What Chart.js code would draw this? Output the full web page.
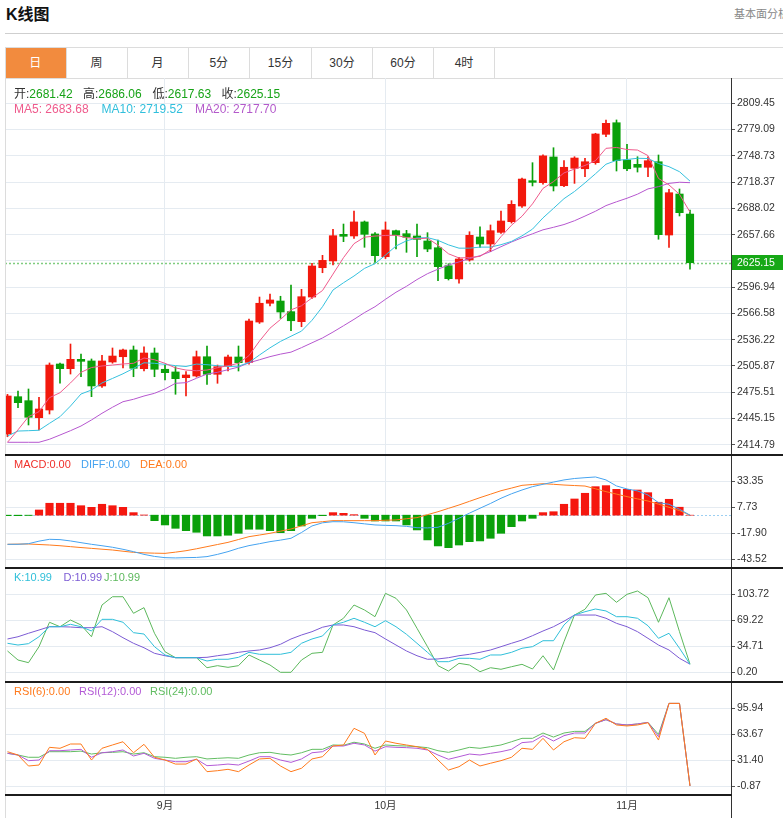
<!DOCTYPE html>
<html>
<head>
<meta charset="utf-8">
<script src="https://cdn.jsdelivr.net/npm/chart.js@4"></script>
<style>
  html, body { margin:0; padding:0; }
  body { width:783px; height:818px; overflow:hidden; background:#fff; position:relative;
         font-family:"Liberation Sans","Noto Sans CJK SC",Arial,sans-serif; color:#333; }
  .abs { position:absolute; white-space:nowrap; }
  canvas { position:absolute; left:0; }
  .tab { position:absolute; top:48px; height:30px; line-height:30px; text-align:center; font-size:12px; color:#333;
         border-right:1px solid #dcdcdc; box-sizing:border-box; }
  .tab.on { background:#f28b3e; color:#fff; }
  .hdr { position:absolute; white-space:nowrap; }
</style>
</head>
<body>
<script>
// ---------------- DATA ----------------
const monthLabels  = ['9月', '10月', '11月'];
const monthTickIdx = [15, 36, 59];

const openValues = [
  2427.2, 2470.3, 2465.7, 2446.0, 2454.9, 2508.1, 2502.7, 2513.5, 2511.6, 2482.7,
  2510.4, 2516.5, 2524.3, 2502.7, 2520.8, 2502.0, 2498.9, 2492.3, 2494.2, 2516.5,
  2496.2, 2506.1, 2516.2, 2510.0, 2556.6, 2578.3, 2580.9, 2568.6, 2557.0, 2585.5,
  2619.4, 2627.2, 2658.0, 2656.1, 2672.3, 2658.4, 2632.1, 2662.2, 2658.7, 2656.1,
  2650.3, 2642.5, 2621.7, 2606.4, 2628.3, 2654.9, 2646.8, 2660.3, 2672.6, 2690.7,
  2720.0, 2717.7, 2747.4, 2714.2, 2734.3, 2733.8, 2740.8, 2773.6, 2787.0, 2743.9,
  2738.9, 2735.5, 2741.9, 2657.2, 2704.6, 2681.42
];
const highValues = [
  2473.0, 2476.9, 2479.2, 2469.6, 2509.3, 2509.3, 2531.2, 2519.6, 2513.9, 2518.1,
  2526.6, 2525.4, 2528.9, 2527.8, 2526.6, 2506.9, 2505.0, 2499.4, 2523.1, 2528.9,
  2506.9, 2518.5, 2528.9, 2560.1, 2585.5, 2589.0, 2586.4, 2599.4, 2594.4, 2624.5,
  2633.7, 2663.8, 2669.9, 2685.0, 2673.4, 2659.9, 2672.3, 2663.0, 2662.6, 2669.9,
  2659.9, 2651.4, 2624.0, 2631.4, 2661.0, 2666.8, 2668.8, 2685.0, 2696.9, 2723.0,
  2740.8, 2750.0, 2758.1, 2743.1, 2747.7, 2745.9, 2774.8, 2790.2, 2790.2, 2762.1,
  2747.7, 2747.7, 2749.7, 2710.0, 2710.4, 2686.06
];
const lowValues = [
  2424.0, 2457.6, 2437.6, 2431.8, 2450.3, 2485.8, 2496.5, 2493.4, 2470.3, 2481.0,
  2509.0, 2503.5, 2493.4, 2500.0, 2493.4, 2489.6, 2473.1, 2471.1, 2493.0, 2484.6,
  2485.8, 2500.0, 2500.0, 2508.0, 2555.0, 2575.2, 2560.9, 2546.6, 2551.2, 2584.0,
  2613.6, 2622.5, 2649.5, 2653.4, 2643.0, 2625.6, 2630.0, 2641.0, 2637.2, 2632.1,
  2637.9, 2604.4, 2605.2, 2601.4, 2627.0, 2643.0, 2637.9, 2659.0, 2671.0, 2689.0,
  2713.9, 2716.0, 2708.1, 2713.0, 2716.9, 2724.6, 2739.0, 2770.8, 2731.2, 2731.5,
  2730.0, 2724.6, 2652.3, 2643.0, 2679.2, 2617.63
];
const closeValues = [
  2471.1, 2463.4, 2446.5, 2456.1, 2506.9, 2502.7, 2513.5, 2511.2, 2482.7, 2511.6,
  2517.3, 2524.3, 2503.1, 2520.8, 2502.0, 2498.1, 2491.1, 2495.4, 2516.5, 2496.2,
  2505.0, 2516.2, 2509.6, 2557.8, 2578.3, 2582.1, 2568.2, 2558.1, 2585.9, 2621.4,
  2627.9, 2656.4, 2655.7, 2672.3, 2658.0, 2633.3, 2663.0, 2657.2, 2654.6, 2652.2,
  2641.0, 2620.6, 2606.7, 2629.5, 2656.8, 2646.8, 2662.2, 2673.4, 2692.7, 2721.9,
  2718.1, 2748.7, 2713.9, 2735.5, 2746.2, 2741.9, 2774.0, 2786.3, 2743.1, 2733.8,
  2735.5, 2743.1, 2657.6, 2706.1, 2683.0, 2625.15
];
const ma5Values = [
  2417.6, 2432.0, 2447.2, 2453.0, 2469.2, 2474.9, 2486.2, 2498.5, 2504.0, 2505.8,
  2506.9, 2508.1, 2508.9, 2515.0, 2513.0, 2508.9, 2503.6, 2501.1, 2500.3, 2501.1,
  2503.8, 2506.1, 2508.9, 2517.8, 2534.6, 2549.5, 2559.6, 2570.7, 2575.4, 2584.5,
  2593.0, 2612.0, 2631.0, 2647.2, 2654.7, 2656.0, 2656.7, 2656.9, 2654.2, 2652.8,
  2653.5, 2645.4, 2635.5, 2630.7, 2631.1, 2632.5, 2640.2, 2655.3, 2668.5, 2678.9,
  2693.2, 2711.1, 2718.9, 2729.0, 2733.4, 2737.6, 2743.1, 2757.4, 2758.4, 2756.0,
  2755.4, 2749.0, 2722.6, 2715.1, 2704.2, 2683.68
];
const ma10Values = [
  2424.9, 2430.6, 2431.0, 2431.5, 2439.5, 2447.2, 2459.5, 2473.4, 2478.0, 2486.2,
  2491.4, 2496.8, 2503.0, 2509.5, 2508.9, 2507.7, 2506.2, 2505.2, 2508.0, 2507.3,
  2506.1, 2505.2, 2505.6, 2509.8, 2518.5, 2526.8, 2534.2, 2540.2, 2546.1, 2558.6,
  2574.3, 2593.6, 2602.0, 2609.8, 2618.6, 2624.1, 2634.0, 2644.5, 2650.5, 2653.8,
  2654.2, 2651.0, 2645.8, 2642.0, 2642.0, 2643.2, 2643.2, 2646.0, 2649.8, 2656.2,
  2664.0, 2677.0, 2688.0, 2699.2, 2707.5, 2717.5, 2728.0, 2739.0, 2743.5, 2744.5,
  2745.9, 2745.6, 2739.9, 2736.2, 2730.4, 2719.52
];
const ma20Values = [
  2417.6, 2417.6, 2417.6, 2417.6, 2421.1, 2426.0, 2431.0, 2436.4, 2443.4, 2451.1,
  2458.1, 2464.5, 2467.3, 2471.1, 2474.2, 2479.2, 2485.8, 2486.5, 2491.6, 2496.5,
  2498.5, 2501.5, 2504.5, 2509.5, 2513.0, 2516.6, 2519.5, 2521.8, 2527.0, 2532.6,
  2538.2, 2545.0, 2552.3, 2559.7, 2567.5, 2574.3, 2582.9, 2591.0, 2597.9, 2605.7,
  2612.5, 2617.7, 2622.5, 2626.1, 2630.0, 2633.3, 2638.0, 2643.7, 2649.1, 2654.1,
  2658.6, 2663.2, 2666.1, 2669.3, 2673.7, 2679.1, 2684.7, 2691.2, 2695.6, 2699.7,
  2704.4, 2710.5, 2713.1, 2716.9, 2718.2, 2717.70
];
const macdValues = [
  -0.5, -0.5, -0.3, 5.1, 11.7, 11.7, 11.7, 9.3, 7.7, 10.7,
  9.3, 7.7, 2.5, 0.2, -5.4, -9.6, -12.9, -15.2, -16.8, -20.4,
  -20.4, -19.7, -17.8, -13.8, -13.8, -15.2, -17.2, -15.2, -10.6, -3.1,
  -0.5, 2.5, 1.8, 0.5, -3.1, -5.7, -5.7, -5.7, -9.6, -14.5,
  -24.3, -30.2, -31.9, -29.3, -26.0, -25.3, -22.7, -17.8, -11.3, -5.7,
  -3.1, 2.5, 3.4, 10.7, 15.9, 21.5, 28.0, 29.0, 25.4, 25.4,
  24.7, 22.1, 12.7, 15.6, 7.8, 0
];
const diffValues = [
  -28.6, -28.6, -28.0, -25.5, -23.7, -24.0, -25.3, -27.0, -28.6, -30.0,
  -31.5, -33.5, -35.8, -38.5, -40.5, -41.7, -42.0, -41.7, -41.5, -40.7,
  -38.5, -35.8, -32.5, -29.9, -28.0, -26.0, -24.5, -22.7, -17.0, -10.6,
  -7.5, -6.4, -6.5, -7.4, -8.5, -9.6, -10.0, -10.3, -11.0, -12.3,
  -12.5, -11.9, -8.0, -3.0, 2.0, 6.8, 11.5, 16.6, 21.0, 24.7,
  28.0, 30.3, 32.5, 34.6, 36.0, 36.8, 37.5, 34.6, 28.7, 25.7,
  23.8, 19.8, 12.3, 10.7, 5.8, 0
];
const deaValues = [
  -28.6, -28.4, -28.3, -28.8, -29.3, -30.0, -30.9, -31.8, -32.6, -33.4,
  -34.2, -35.4, -36.5, -37.0, -37.3, -37.5, -36.3, -34.9, -33.0, -30.9,
  -28.8, -26.7, -23.9, -21.1, -19.5, -17.8, -15.7, -13.6, -10.5, -7.4,
  -6.4, -5.4, -5.4, -5.4, -5.4, -5.4, -5.0, -4.7, -3.5, -2.4,
  0.5, 3.4, 6.7, 10.0, 13.6, 17.2, 20.6, 24.0, 26.6, 29.3,
  30.1, 30.9, 30.3, 29.6, 29.1, 28.6, 25.9, 23.1, 20.7, 18.2,
  16.0, 13.9, 10.8, 7.7, 4.5, 0
];
const kValues = [
  38.7, 36.4, 38.2, 47.4, 60.7, 60.7, 63.9, 60.7, 55.0, 70.5,
  70.5, 66.6, 52.8, 51.0, 34.2, 23.2, 19.6, 19.6, 19.6, 15.2,
  17.5, 17.5, 20.1, 26.7, 24.1, 24.1, 24.1, 26.7, 38.7, 44.4,
  48.4, 63.0, 66.6, 71.9, 66.6, 60.7, 68.7, 60.7, 50.6, 38.7,
  26.7, 14.3, 14.3, 18.8, 18.8, 17.5, 23.2, 23.2, 26.7, 32.1,
  34.2, 42.1, 42.1, 63.0, 76.2, 80.6, 84.2, 81.6, 74.0, 74.0,
  71.9, 62.0, 45.3, 52.0, 32.1, 10.99
];
const dValues = [
  44.4, 47.4, 52.0, 56.3, 60.7, 60.7, 60.3, 59.4, 59.4, 60.7,
  54.1, 46.1, 38.7, 32.8, 25.4, 22.2, 19.6, 19.6, 19.6, 20.1,
  22.2, 24.1, 26.7, 28.5, 29.8, 32.8, 37.4, 44.4, 49.7, 54.1,
  60.0, 63.0, 63.0, 60.7, 56.3, 52.8, 44.4, 36.4, 28.5, 22.2,
  17.5, 17.9, 19.6, 22.2, 24.1, 26.7, 29.8, 34.2, 38.7, 43.0,
  48.8, 55.0, 60.7, 68.0, 76.2, 76.2, 76.2, 71.9, 65.2, 60.7,
  54.1, 45.3, 36.4, 29.8, 18.8, 10.99
];
const jValues = [
  28.5, 16.5, 13.0, 34.2, 66.6, 60.7, 69.6, 63.0, 47.4, 89.5,
  100.5, 100.5, 78.5, 86.0, 52.0, 27.5, 19.6, 19.6, 19.6, 6.3,
  9.0, 6.8, 9.0, 23.2, 16.5, 9.9, 0.2, 0.2, 16.5, 25.4,
  26.7, 63.0, 71.9, 89.5, 82.9, 74.0, 105.0, 98.4, 82.9, 58.6,
  34.2, 9.0, 1.9, 12.1, 9.9, 1.0, 6.3, 4.2, 7.6, 10.8,
  4.6, 22.2, 3.3, 40.8, 76.2, 83.8, 102.8, 105.0, 93.1, 103.7,
  108.1, 99.2, 66.6, 99.2, 54.1, 10.99
];
const rsi6Values = [
  42.3, 38.2, 24.6, 25.8, 47.7, 46.5, 51.8, 51.8, 32.0, 46.5,
  50.6, 54.6, 41.0, 51.4, 35.4, 32.0, 27.0, 27.0, 33.3, 17.6,
  18.8, 20.5, 17.6, 25.8, 33.3, 34.1, 24.6, 17.6, 21.8, 33.3,
  36.1, 49.3, 50.6, 71.2, 65.0, 38.2, 55.5, 52.7, 50.6, 48.5,
  45.2, 32.0, 19.6, 23.7, 32.0, 24.6, 28.0, 31.2, 35.4, 46.5,
  45.2, 58.8, 44.4, 54.6, 59.6, 58.8, 77.4, 83.6, 75.3, 74.1,
  75.3, 78.1, 56.7, 102.0, 102.0, 0
];
const rsi12Values = [
  40.3, 38.2, 31.2, 32.0, 43.5, 43.5, 44.4, 45.2, 35.4, 41.0,
  42.3, 44.4, 37.0, 40.3, 34.1, 32.0, 29.9, 29.9, 32.9, 25.0,
  25.8, 27.0, 25.8, 30.7, 36.1, 36.1, 32.0, 29.1, 33.3, 41.0,
  42.3, 49.3, 49.3, 52.7, 50.6, 43.0, 48.5, 47.7, 47.3, 46.5,
  44.4, 38.2, 32.9, 36.1, 39.4, 38.2, 40.3, 42.3, 45.2, 53.5,
  54.6, 62.1, 55.5, 62.1, 65.4, 65.4, 77.4, 81.9, 76.6, 75.3,
  76.6, 78.5, 60.8, 102.0, 102.0, 0
];
const rsi24Values = [
  40.3, 38.2, 35.4, 35.4, 42.3, 42.3, 42.3, 43.0, 39.4, 41.0,
  41.5, 42.3, 39.4, 41.0, 36.1, 35.4, 34.1, 35.4, 36.1, 33.3,
  34.1, 34.8, 34.1, 38.2, 41.0, 41.5, 39.4, 38.2, 41.0, 45.2,
  45.2, 50.6, 50.2, 54.0, 51.8, 46.5, 50.6, 49.7, 49.3, 48.5,
  47.3, 43.5, 41.5, 44.4, 47.7, 46.5, 48.5, 50.6, 54.6, 58.8,
  58.8, 65.4, 60.4, 65.4, 67.4, 67.4, 77.4, 81.9, 76.6, 75.3,
  76.6, 78.5, 63.7, 102.0, 102.0, 0
];
const priceTicks = [2414.79, 2445.15, 2475.51, 2505.87, 2536.22, 2566.58, 2596.94,
                    2627.30, 2657.66, 2688.02, 2718.37, 2748.73, 2779.09, 2809.45];
const macdTicks = [-43.52, -17.90, 7.73, 33.35];
const kdjTicks  = [0.20, 34.71, 69.22, 103.72];
const rsiTicks  = [-0.87, 31.40, 63.67, 95.94];
</script>

<!-- header / tabs -->
<div class="abs" style="left:6px;top:5px;font-size:16px;line-height:20px;font-weight:bold;color:#111;">K线图</div>
<div class="abs" style="left:734px;top:7px;font-size:11px;line-height:14px;color:#888;">基本面分析</div>
<div class="abs" style="left:5px;top:33px;width:778px;height:1px;background:#cfcfcf;"></div>

<div class="abs" style="left:5px;top:47px;width:778px;height:1px;background:#dcdcdc;"></div>
<div class="abs" style="left:5px;top:78px;width:778px;height:1px;background:#dcdcdc;"></div>
<div class="tab on" style="left:5px;width:61.5px;">日</div>
<div class="tab" style="left:66.5px;width:61px;">周</div>
<div class="tab" style="left:127.5px;width:61px;">月</div>
<div class="tab" style="left:188.5px;width:61.5px;">5分</div>
<div class="tab" style="left:250px;width:62px;">15分</div>
<div class="tab" style="left:312px;width:61px;">30分</div>
<div class="tab" style="left:373px;width:61px;">60分</div>
<div class="tab" style="left:434px;width:61px;">4时</div>

<canvas id="cMain" width="783" height="377" style="top:78px;"></canvas>
<canvas id="cMacd" width="783" height="113" style="top:455px;"></canvas>
<canvas id="cKdj"  width="783" height="114" style="top:568px;"></canvas>
<canvas id="cRsi"  width="783" height="136" style="top:682px;"></canvas>

<!-- frame lines -->
<div class="abs" style="left:5px;top:47px;width:1px;height:771px;background:#dcdcdc;"></div>
<div class="abs" style="left:731px;top:78px;width:1px;height:740px;background:#333;"></div>
<div class="abs" style="left:5px;top:454px;width:778px;height:2px;background:#1c1c1c;"></div>
<div class="abs" style="left:5px;top:567px;width:778px;height:2px;background:#1c1c1c;"></div>
<div class="abs" style="left:5px;top:681px;width:778px;height:2px;background:#1c1c1c;"></div>
<div class="abs" style="left:5px;top:794px;width:727px;height:2px;background:#1c1c1c;"></div>

<!-- panel headers -->
<div style="font-size:12px;line-height:14px;">
  <span class="hdr" style="left:14px;top:87px;"><span style="color:#333">开:</span><span style="color:#17a317">2681.42</span></span>
  <span class="hdr" style="left:83px;top:87px;"><span style="color:#333">高:</span><span style="color:#17a317">2686.06</span></span>
  <span class="hdr" style="left:152.5px;top:87px;"><span style="color:#333">低:</span><span style="color:#17a317">2617.63</span></span>
  <span class="hdr" style="left:221.5px;top:87px;"><span style="color:#333">收:</span><span style="color:#17a317">2625.15</span></span>
  <span class="hdr" style="left:14px;top:102px;color:#ef5a8c;">MA5: 2683.68</span>
  <span class="hdr" style="left:101.5px;top:102px;color:#30bfdc;">MA10: 2719.52</span>
  <span class="hdr" style="left:195px;top:102px;color:#b45acb;">MA20: 2717.70</span>
</div>
<div style="font-size:11px;line-height:13px;">
  <span class="hdr" style="left:14px;top:457.5px;color:#f0302b;">MACD:0.00</span>
  <span class="hdr" style="left:81px;top:457.5px;color:#45a3f0;">DIFF:0.00</span>
  <span class="hdr" style="left:140px;top:457.5px;color:#ff7a1c;">DEA:0.00</span>
  <span class="hdr" style="left:14px;top:571px;color:#2fbfd9;">K:10.99</span>
  <span class="hdr" style="left:63.5px;top:571px;color:#7c5bd4;">D:10.99</span>
  <span class="hdr" style="left:104px;top:571px;color:#5cb85c;">J:10.99</span>
  <span class="hdr" style="left:14px;top:684.5px;color:#ff7a1c;">RSI(6):0.00</span>
  <span class="hdr" style="left:79px;top:684.5px;color:#b35ad6;">RSI(12):0.00</span>
  <span class="hdr" style="left:150px;top:684.5px;color:#62bd62;">RSI(24):0.00</span>
</div>

<script>
const FONT = '"Liberation Sans", "Noto Sans CJK SC", Arial, sans-serif';
const GRID = '#e5ebf1';
const X_MIN = -0.238, X_MAX = 68.905;
const UP = '#f2190d', DOWN = '#0aa00a';

function idxPts(arr) { return arr.map((v, i) => ({ x: i, y: v })); }
function lineDs(arr, color) {
  return { type: 'line', data: idxPts(arr), borderColor: color, borderWidth: 1,
           pointRadius: 0, pointHoverRadius: 0, tension: 0, fill: false, order: 0 };
}
function makeOptions(yMin, yMax, yTicks, showX) {
  return {
    responsive: false, animation: false, events: [],
    layout: { padding: { left: 5, right: 0, top: 0, bottom: 0 } },
    plugins: { legend: { display: false }, tooltip: { enabled: false } },
    scales: {
      x: {
        type: 'linear', min: X_MIN, max: X_MAX, offset: false, bounds: 'data',
        afterBuildTicks: s => { s.ticks = monthTickIdx.map(v => ({ value: v })); },
        grid: { color: GRID, lineWidth: 1, drawTicks: false, offset: false },
        border: { display: false },
        ticks: { display: showX, padding: 5, autoSkip: false, maxRotation: 0,
                 font: { size: 10.5, family: FONT }, color: '#333',
                 callback: v => { const k = monthTickIdx.indexOf(v); return k >= 0 ? monthLabels[k] : ''; } },
        afterFit: s => { s.height = showX ? 23 : 0; s.paddingLeft = 0; s.paddingRight = 0; }
      },
      y: {
        position: 'right', min: yMin, max: yMax, bounds: 'data',
        afterBuildTicks: s => { s.ticks = yTicks.map(v => ({ value: v })); },
        grid: { color: GRID, lineWidth: 1, drawTicks: true, tickLength: 4, tickColor: '#555' },
        border: { display: false },
        ticks: { padding: 2, autoSkip: false, font: { size: 10.5, family: FONT }, color: '#333',
                 callback: v => Number(v).toFixed(2) },
        afterFit: s => { s.width = 52; s.paddingTop = 0; s.paddingBottom = 0; }
      }
    }
  };
}

// ---- main candlestick panel ----
const candleColors = closeValues.map((c, i) => (c >= openValues[i] ? UP : DOWN));
const lastIdx = closeValues.length - 1;
const pricePlugin = {
  id: 'lastPrice',
  beforeDatasetsDraw(chart) {
    const { ctx, chartArea } = chart;
    const y = Math.round(chart.scales.y.getPixelForValue(closeValues[lastIdx])) + 0.5;
    ctx.save();
    ctx.strokeStyle = '#7fcc7f'; ctx.lineWidth = 1.5; ctx.setLineDash([2, 2]);
    ctx.beginPath(); ctx.moveTo(chartArea.left, y); ctx.lineTo(chartArea.right, y); ctx.stroke();
    ctx.restore();
  },
  afterDraw(chart) {
    const { ctx, chartArea } = chart;
    const y = chart.scales.y.getPixelForValue(closeValues[lastIdx]);
    ctx.save();
    ctx.fillStyle = '#16a816';
    ctx.fillRect(chartArea.right + 1, Math.round(y - 7.5), chart.width - chartArea.right - 1, 15);
    ctx.fillStyle = '#fff';
    ctx.font = '10.5px ' + FONT;
    ctx.textBaseline = 'middle'; ctx.textAlign = 'left';
    ctx.fillText(closeValues[lastIdx].toFixed(2), chartArea.right + 6, y + 0.5);
    ctx.restore();
  }
};
new Chart(document.getElementById('cMain'), {
  type: 'bar',
  data: {
    datasets: [
      lineDs(ma5Values, '#ef5a8c'),
      lineDs(ma10Values, '#36c1de'),
      lineDs(ma20Values, '#b657cf'),
      { type: 'bar', data: closeValues.map((c, i) => ({ x: i, y: [openValues[i], c] })),
        backgroundColor: candleColors, barThickness: 7.5, maxBarThickness: 7.5, grouped: false,
        minBarLength: 1, borderWidth: 0, order: 1 },
      { type: 'bar', data: highValues.map((h, i) => ({ x: i, y: [lowValues[i], h] })),
        backgroundColor: candleColors, barThickness: 1, maxBarThickness: 1, grouped: false,
        borderWidth: 0, order: 2 }
    ]
  },
  options: makeOptions(2402.9, 2838.7, priceTicks, false),
  plugins: [pricePlugin]
});

// ---- MACD panel ----
const zeroPlugin = {
  id: 'zeroLine',
  beforeDatasetsDraw(chart) {
    const { ctx, chartArea } = chart;
    const y = Math.round(chart.scales.y.getPixelForValue(0)) + 0.5;
    ctx.save();
    ctx.strokeStyle = '#9ccff2'; ctx.lineWidth = 1; ctx.setLineDash([2, 2]);
    ctx.beginPath(); ctx.moveTo(chartArea.left, y); ctx.lineTo(chartArea.right, y); ctx.stroke();
    ctx.restore();
  }
};
new Chart(document.getElementById('cMacd'), {
  type: 'bar',
  data: {
    datasets: [
      lineDs(diffValues, '#45a3f0'),
      lineDs(deaValues, '#ff7a1c'),
      { type: 'bar', data: idxPts(macdValues),
        backgroundColor: macdValues.map(v => (v >= 0 ? '#f5170f' : '#0aa00a')),
        barThickness: 7.5, maxBarThickness: 7.5, borderWidth: 0, order: 2 }
    ]
  },
  options: makeOptions(-51.87, 59.08, macdTicks, false),
  plugins: [zeroPlugin]
});

// ---- KDJ panel ----
new Chart(document.getElementById('cKdj'), {
  type: 'line',
  data: { datasets: [ lineDs(kValues, '#2fbfd9'), lineDs(dValues, '#7c5bd4'), lineDs(jValues, '#5cb85c') ] },
  options: makeOptions(-12.67, 138.62, kdjTicks, false)
});

// ---- RSI panel ----
new Chart(document.getElementById('cRsi'), {
  type: 'line',
  data: { datasets: [ lineDs(rsi6Values, '#ff7a1c'), lineDs(rsi12Values, '#b35ad6'), lineDs(rsi24Values, '#62bd62') ] },
  options: makeOptions(-11.25, 128.46, rsiTicks, true)
});
</script>
</body>
</html>
